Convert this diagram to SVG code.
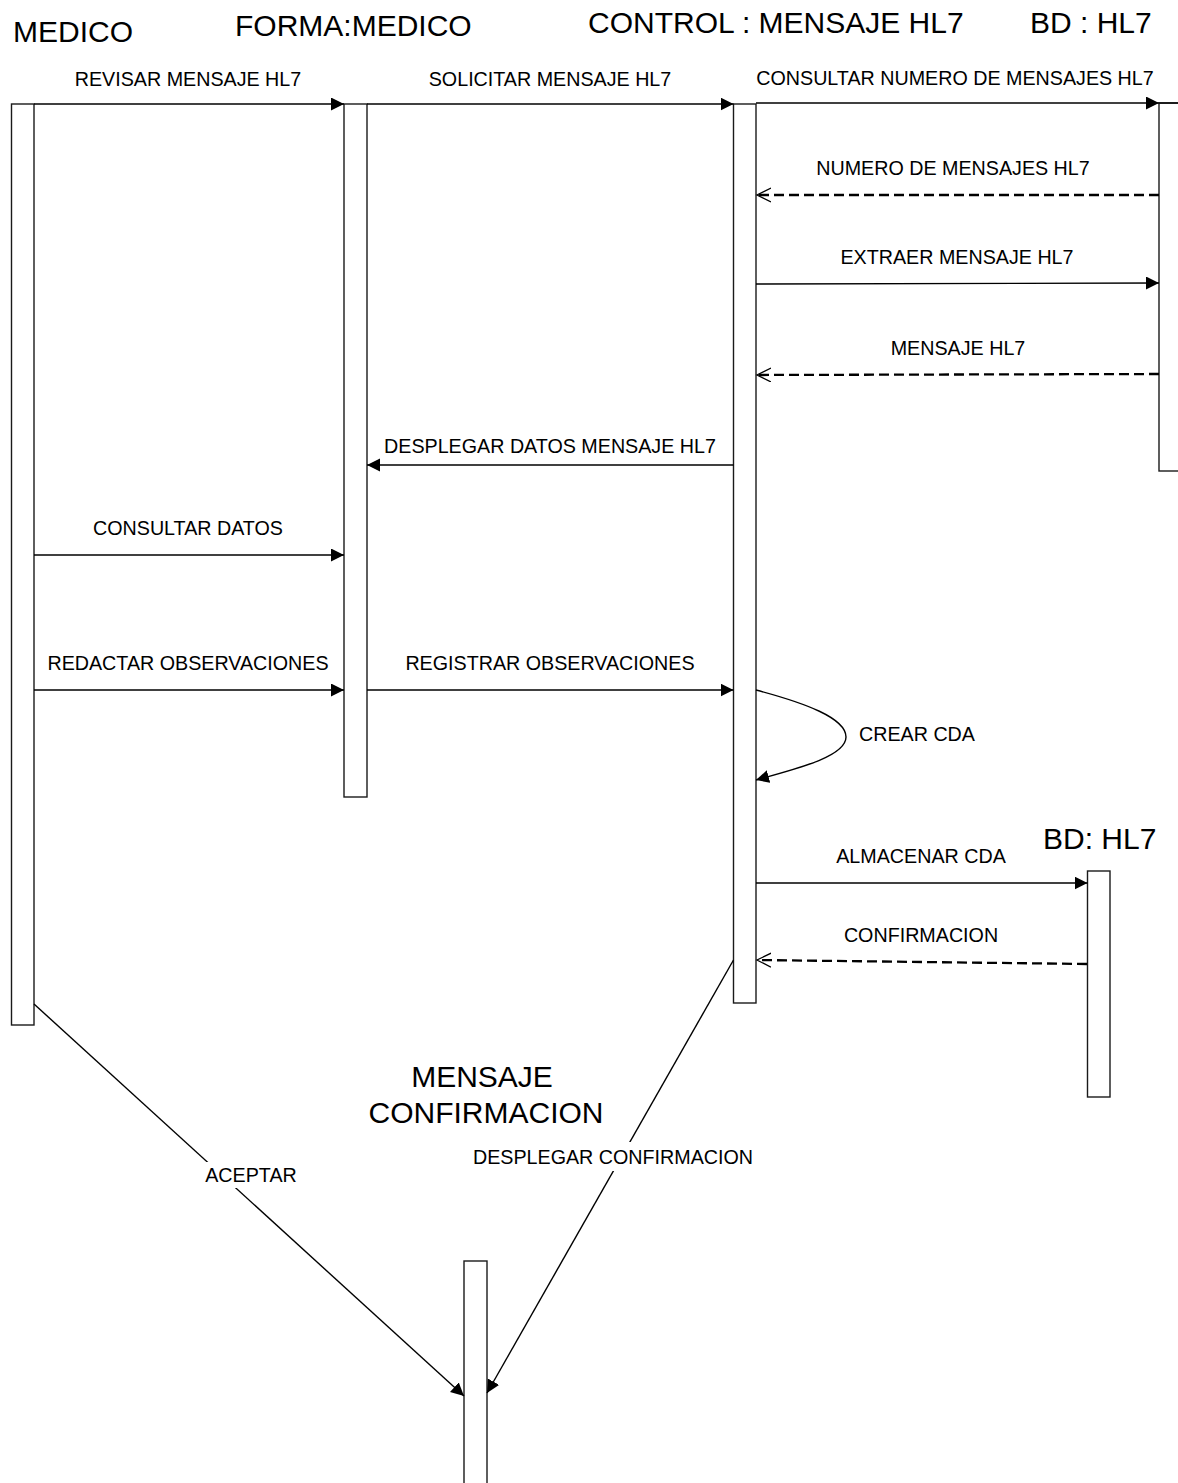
<svg xmlns="http://www.w3.org/2000/svg" width="1178" height="1483" viewBox="0 0 1178 1483">
<style>
text{font-family:"Liberation Sans",Arial,sans-serif;fill:#000}
.h{font-size:30px}
.l{font-size:19.7px;text-anchor:middle}
.act{fill:#fff;stroke:#1a1a1a;stroke-width:1.4}
.m{fill:none;stroke:#000;stroke-width:1.4}
.r{fill:none;stroke:#000;stroke-width:2.3;stroke-dasharray:10 5}
</style>
<defs>
<marker id="fa" markerUnits="userSpaceOnUse" markerWidth="16" markerHeight="16" refX="13" refY="6.5" orient="auto">
<path d="M0,0 L13,6.5 L0,13 z" fill="#000"/>
</marker>
<marker id="oa" markerUnits="userSpaceOnUse" markerWidth="18" markerHeight="18" refX="14" refY="7.5" orient="auto">
<path d="M0,0.5 L14,7.5 L0,14.5" fill="none" stroke="#000" stroke-width="1.3"/>
</marker>
</defs>
<rect width="1178" height="1483" fill="#fff"/>

<g id="medico">
<text class="h" x="13" y="42">MEDICO</text>
<rect class="act" x="11.5" y="104" width="22.5" height="921"/>
</g>
<g id="forma">
<text class="h" x="235" y="36">FORMA:MEDICO</text>
<rect class="act" x="344" y="104" width="23" height="693"/>
</g>
<g id="control">
<text class="h" x="588" y="33">CONTROL : MENSAJE HL7</text>
<rect class="act" x="733.5" y="104" width="22.5" height="899"/>
</g>
<g id="bd1">
<text class="h" x="1030" y="33">BD : HL7</text>
<rect class="act" x="1159" y="103" width="40" height="368"/>
</g>
<g id="bd2">
<text class="h" x="1043" y="849">BD: HL7</text>
<rect class="act" x="1087.5" y="871" width="22.5" height="226"/>
</g>
<g id="mensajeconf">
<text class="h" x="482" y="1087" text-anchor="middle">MENSAJE</text>
<text class="h" x="486" y="1123" text-anchor="middle">CONFIRMACION</text>
<rect class="act" x="464" y="1261" width="23" height="240"/>
</g>

<g id="connectors">
<line class="m" x1="34" y1="104" x2="344" y2="104" marker-end="url(#fa)"/>
<text class="l" x="188" y="86">REVISAR MENSAJE HL7</text>
<line class="m" x1="367" y1="104" x2="733.5" y2="104" marker-end="url(#fa)"/>
<text class="l" x="550" y="86">SOLICITAR MENSAJE HL7</text>
<line class="m" x1="756" y1="103" x2="1159" y2="103" marker-end="url(#fa)"/>
<line class="m" x1="1159" y1="103" x2="1178" y2="103"/>
<text class="l" x="955" y="85">CONSULTAR NUMERO DE MENSAJES HL7</text>
<line class="r" x1="1159" y1="195" x2="757" y2="195" marker-end="url(#oa)"/>
<text class="l" x="953" y="175">NUMERO DE MENSAJES HL7</text>
<line class="m" x1="756" y1="284" x2="1159" y2="283" marker-end="url(#fa)"/>
<text class="l" x="957" y="264">EXTRAER MENSAJE HL7</text>
<line class="r" x1="1159" y1="374" x2="757" y2="375" marker-end="url(#oa)"/>
<text class="l" x="958" y="355">MENSAJE HL7</text>
<line class="m" x1="733.5" y1="465" x2="367" y2="465" marker-end="url(#fa)"/>
<text class="l" x="550" y="453">DESPLEGAR DATOS MENSAJE HL7</text>
<line class="m" x1="34" y1="555" x2="344" y2="555" marker-end="url(#fa)"/>
<text class="l" x="188" y="535">CONSULTAR DATOS</text>
<line class="m" x1="34" y1="690" x2="344" y2="690" marker-end="url(#fa)"/>
<text class="l" x="188" y="670">REDACTAR OBSERVACIONES</text>
<line class="m" x1="367" y1="690" x2="733.5" y2="690" marker-end="url(#fa)"/>
<text class="l" x="550" y="670">REGISTRAR OBSERVACIONES</text>
<path class="m" d="M756,690 C805,703 846,718 846,737 C846,756 800,768 756,780" marker-end="url(#fa)"/>
<text class="l" x="859" y="741" style="text-anchor:start">CREAR CDA</text>
<line class="m" x1="756" y1="883" x2="1087.5" y2="883" marker-end="url(#fa)"/>
<text class="l" x="921" y="863">ALMACENAR CDA</text>
<line class="r" x1="1087" y1="964" x2="757" y2="960" marker-end="url(#oa)"/>
<text class="l" x="921" y="942">CONFIRMACION</text>
<line class="m" x1="34" y1="1004" x2="464" y2="1396" marker-end="url(#fa)"/>
<rect x="203" y="1162" width="97" height="26" fill="#fff"/>
<text class="l" x="251" y="1182">ACEPTAR</text>
<line class="m" x1="733.5" y1="960" x2="487" y2="1393" marker-end="url(#fa)"/>
<rect x="471" y="1142" width="285" height="29" fill="#fff"/>
<text class="l" x="613" y="1164">DESPLEGAR CONFIRMACION</text>
</g>
</svg>
